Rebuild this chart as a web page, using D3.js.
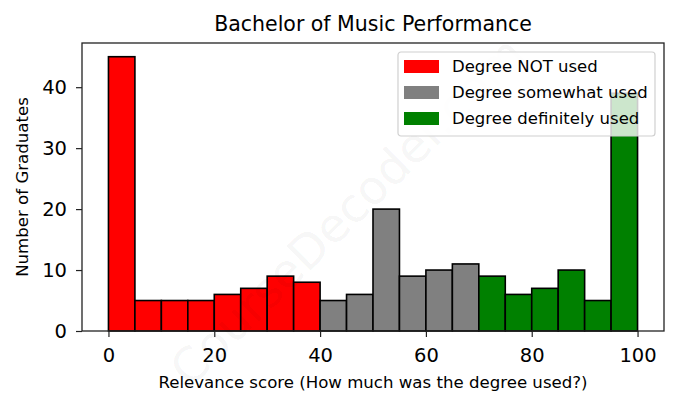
<!DOCTYPE html>
<html>
<head>
<meta charset="utf-8">
<script src="https://cdn.jsdelivr.net/npm/d3@7"></script>
<style>
  body { margin: 0; background: #fff; }
  svg { font-family: "DejaVu Sans", sans-serif; }
</style>
</head>
<body>
<div id="chart"></div>
<script>
// histogram bins, width 5, 0..100
const binStarts = [0, 5, 10, 15, 20, 25, 30, 35, 40, 45, 50, 55, 60, 65, 70, 75, 80, 85, 90, 95];
const counts = [45, 5, 5, 5, 6, 7, 9, 8, 5, 6, 20, 9, 10, 11, 9, 6, 7, 10, 5, 39];
const groups = [
  { name: 'Degree NOT used', color: '#ff0000', from: 0, to: 40 },
  { name: 'Degree somewhat used', color: '#808080', from: 40, to: 70 },
  { name: 'Degree definitely used', color: '#008000', from: 70, to: 100 },
];
const xTicks = [0, 20, 40, 60, 80, 100];
const yTicks = [0, 10, 20, 30, 40];
const binWidth = 5;

const W = 678, H = 408;
const plot = { left: 82, right: 664, top: 43, bottom: 331 };

const svg = d3.select('#chart').append('svg')
  .attr('width', W)
  .attr('height', H);

const x = d3.scaleLinear().domain([-5, 105]).range([plot.left, plot.right]);
const y = d3.scaleLinear().domain([0, d3.max(counts) * 1.05]).range([plot.bottom, plot.top]);

const colorFor = (start) => groups.find((g) => start >= g.from && start < g.to).color;

const bars = binStarts.map((s, i) => ({ start: s, count: counts[i], color: colorFor(s) }));

svg.append('g')
  .selectAll('rect')
  .data(bars)
  .join('rect')
  .attr('x', (d) => x(d.start))
  .attr('y', (d) => y(d.count))
  .attr('width', (d) => x(d.start + binWidth) - x(d.start))
  .attr('height', (d) => y(0) - y(d.count))
  .attr('fill', (d) => d.color)
  .attr('stroke', '#000')
  .attr('stroke-width', 1.6);

// axes
const xAxis = svg.append('g')
  .attr('transform', `translate(0,${plot.bottom})`)
  .call(d3.axisBottom(x).tickValues(xTicks).tickSize(6).tickPadding(11));
const yAxis = svg.append('g')
  .attr('transform', `translate(${plot.left},0)`)
  .call(d3.axisLeft(y).tickValues(yTicks).tickSize(6).tickPadding(9));

[xAxis, yAxis].forEach((a) => {
  a.select('.domain').remove();
  a.selectAll('.tick line').attr('stroke', '#222').attr('stroke-width', 1.2);
  a.selectAll('.tick text')
    .attr('fill', '#000')
    .style('font-size', '19.5px')
    .style('font-family', '"DejaVu Sans", sans-serif');
});

// frame
svg.append('rect')
  .attr('x', plot.left)
  .attr('y', plot.top)
  .attr('width', plot.right - plot.left)
  .attr('height', plot.bottom - plot.top)
  .attr('fill', 'none')
  .attr('stroke', '#222')
  .attr('stroke-width', 1.3);

// watermark (faint, diagonal)
svg.append('text')
  .attr('transform', 'translate(350,214) rotate(-44.5)')
  .attr('text-anchor', 'middle')
  .attr('dominant-baseline', 'middle')
  .attr('fill', '#000')
  .attr('fill-opacity', 0.05)
  .style('font-size', '47px')
  .text('CourseDecoder.com');

// labels
svg.append('text')
  .attr('x', (plot.left + plot.right) / 2)
  .attr('y', 31)
  .attr('text-anchor', 'middle')
  .style('font-size', '20.5px')
  .text('Bachelor of Music Performance');

svg.append('text')
  .attr('x', (plot.left + plot.right) / 2)
  .attr('y', 388)
  .attr('text-anchor', 'middle')
  .style('font-size', '16.6px')
  .text('Relevance score (How much was the degree used?)');

svg.append('text')
  .attr('transform', `translate(28,${(plot.top + plot.bottom) / 2}) rotate(-90)`)
  .attr('text-anchor', 'middle')
  .style('font-size', '16.6px')
  .text('Number of Graduates');

// legend
const legend = svg.append('g').attr('transform', 'translate(398,52)');
legend.append('rect')
  .attr('width', 257)
  .attr('height', 84)
  .attr('rx', 3)
  .attr('fill', '#fff')
  .attr('fill-opacity', 0.8)
  .attr('stroke', '#d0d0d0')
  .attr('stroke-width', 1.2);

const items = legend.selectAll('g.item')
  .data(groups)
  .join('g')
  .attr('class', 'item')
  .attr('transform', (d, i) => `translate(6,${8 + i * 26})`);
items.append('rect')
  .attr('width', 35)
  .attr('height', 13)
  .attr('fill', (d) => d.color);
items.append('text')
  .attr('x', 48)
  .attr('y', 12)
  .style('font-size', '16.5px')
  .text((d) => d.name);
</script>
</body>
</html>
